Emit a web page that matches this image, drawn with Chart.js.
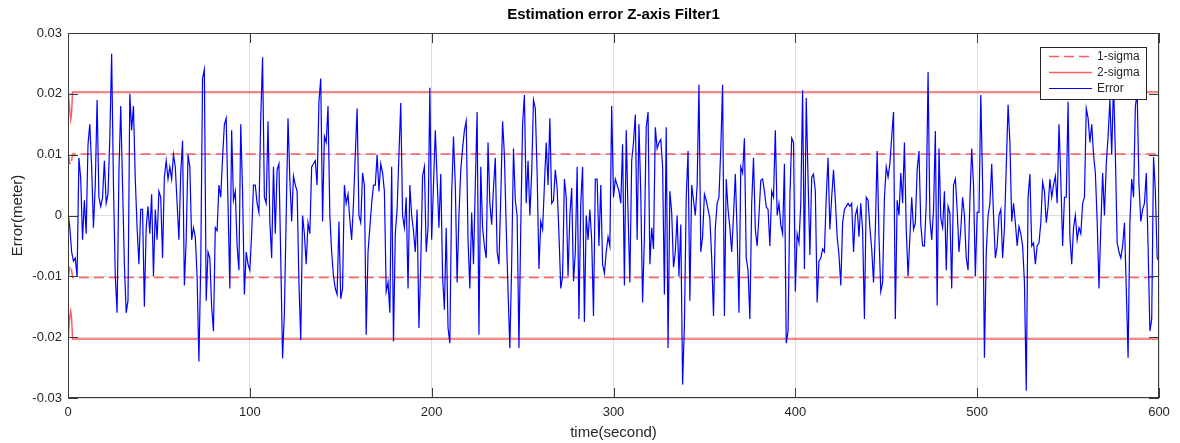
<!DOCTYPE html>
<html><head><meta charset="utf-8">
<script src="https://cdn.jsdelivr.net/npm/chart.js@4/dist/chart.umd.min.js"></script>
<style>html,body{margin:0;padding:0;background:#fff;overflow:hidden}#wrap{width:1180px;height:443px}</style>
</head><body><div id="wrap"><canvas id="c" width="1180" height="443"></canvas></div>
<script>
const chartTitle = 'Estimation error Z-axis Filter1';
const xAxisTitle = 'time(second)';
const yAxisTitle = 'Error(meter)';
const seriesNames = ['1-sigma', '2-sigma', 'Error'];
const xTickValues = [0, 100, 200, 300, 400, 500, 600];
const yTickValues = [-0.03, -0.02, -0.01, 0, 0.01, 0.02, 0.03];
const sampleStepSeconds = 1;
// estimation error, millimetres, one sample per second (t = 0 .. 600)
const errorMillimeters = [
0.5,-2,-6,-7.5,-7,-10,9.5,6,-4,2.5,
-3,11.7,15,8,-2,5,19,3,1.5,3,
9,2,3.5,12.8,26.6,5,-10,-16,7,18,
5,-8,-16,-14,20,14,18,6,-2,-8,
1,1,-15,-2,1.5,-3,3.5,-10,1,-4,
4,3,-7,6.3,9,6,8,6,10,8,
2,-4,7,12.3,-11.5,-4,10,8,-4,-2,
-3.5,-10,-24,-8,22.5,24,-14,-6,-7,-15,
-19,-2,-2.5,5,3,9.5,15,16,2,-12,
14,2.5,4,-5,-9,15,4,-13,-6,-8,
-9,-3,5,5,2,0.5,16,26,3,2,
15.5,-1,-7,8,-3,7.5,8.5,-7,-23.5,-16,
0,16,6,-1,6.5,5,4,-11,-20.5,0,
-3,-8,-1.2,-3,8,8.5,9,5,18.7,22.5,
-1,13,12,18,0,-6,-10,-12,-13,-1,
-13.7,-12,5,2,3.5,-0.7,-4,2,10,17.6,
0,-1.2,7,5,-19.6,-6,-2,2,5,5,
10,4,8.5,7,4,-12.5,-11,-16,8,-20.7,
-3,1,10,18.5,0,-2,3,-12,5,0,
-2.5,-6,1,-18.5,-8,6.5,8,-6,-2,21,
-4,5,14,6,-2,6.8,-10,-15.5,-2,-18.5,
-21,3.5,13,5,-11,0,7.5,11,14,15.5,
-4,-12,0.5,-8,5,17,-19.6,8,-2,-5,
-7,12,2,-1.5,4.5,9.5,-6,-8,3,15.5,
10,-2,-12.5,-21.8,-8,11,2.5,0,-21.8,-2,
15,19.8,2,9,0,7,19,17.6,7,-8.8,
-1,-2.3,5,12,5,16,2,2.5,7.5,4.5,
-3,-12,-10,6,3,-10,0,4.5,-10.8,-6,
8,-17,2,8,-17.5,0,-4,1,-4,-16.5,
6,6,-5,5,-8,-9.5,-6,-3.5,-5,18,
3,6,5,4,2,11.7,-11.5,14,0.5,-11,
9,12,16.6,-4,15,3.5,-14.3,-3.5,14.5,17,
-8,-2,-5.5,14.5,11,12,12.5,8,-13,14.5,
-21.8,4,0.5,-8.5,-6,0,-10,-1.5,-27.8,-18,
3,10.6,-14,5,2.5,0,5,21.5,-6,-3.5,
3.5,2.5,1,-0.5,-7,-16.5,-2,2,3,11,
21.5,-16.5,6,1,-2,-6,0,6.8,-3,-16,
8,7,12.7,-7,-9,-17,2,9.5,-2.3,-5,
0,5.8,6,4,1.4,1,-5,4,3,14,
0,2,-1.5,-3,8.5,-21,-19,3,12.7,12,
-12.5,-3,-4.5,2,20.6,-8.8,19.3,6,-6.5,6.3,
6.8,4,-14.3,-7.5,-7,-5.5,-6,3,9.5,-2.3,
3,7.5,2.5,-3.5,-6.5,-11.5,-1.2,1,1.5,2,
1.5,2,-6,0,1.2,-3.5,2,-2.5,-17,3,
2.5,-2,-5.5,-11,-2.3,10.6,-3.5,-12.5,-11,3,
8,6.3,8.5,13,17,-17,2.5,0,7,2,
12,-2.3,-10,-3.5,3,-2.3,-1.2,7.5,10.6,-1.5,
-5,-5,2,23.6,-0.5,-4,0.8,13.9,-14.8,11,
-0.5,-2,4,-9,1.5,0.4,-12,5,6,1,
-6,-2.3,3,0,-7,-9,2.5,11,5,-10,
0.5,0.5,19.8,5,-23.4,-6,0,2,8.5,0,
-7,-5,0,1,-7,-2,8,18.2,12,-1,
2,-1.2,-5,-1.8,-3,-5,-11,-28.8,3,6.8,
-5,-4.5,-8,-5,-4.5,-1.2,5.5,4,-1.2,1.5,
6,3,5,6.5,2,15,6,-5,3,3,
18.7,-3.5,-8,-2,0,-4,-2,-3,2,3,
17.6,16,12,15,10,7,-1,-12,-2,7,
0,8.5,13,19,10,22,10,-4.5,-6,-7,
-5,-1.2,-12,-23.4,-1,6,3,18,20,5,
-1,1,2,7,-5,-19,-17,9.6,4,-7,
-7.5
];
const sigmaTimes  = [0, 0.3, 1.0, 1.5, 2.0, 2.5, 600];
const sigma1Upper = [0.0100, 0.0098, 0.0086, 0.0083, 0.0090, 0.0101, 0.0101];
const sigma1Lower = [-0.0100, -0.0098, -0.0085, -0.0082, -0.0090, -0.0102, -0.0102];
const sigma2Upper = [0.0200, 0.0196, 0.0172, 0.0158, 0.0170, 0.0203, 0.0203];
const sigma2Lower = [-0.0200, -0.0194, -0.0165, -0.0157, -0.0170, -0.0203, -0.0203];

const FONT = 'Liberation Sans, Arial, Helvetica, sans-serif';
const TXT = '#262626';
const RED = 'rgba(255,30,30,0.72)';
const BLUE = '#0000ff';
const DASH = [10, 5];

const toPts = (ts, vs) => ts.map((t, i) => ({x: t, y: vs[i]}));
const errorPts = errorMillimeters.map((v, i) => ({x: i * sampleStepSeconds, y: v / 1000}));

const decor = {
  id: 'decor',
  afterDatasetsDraw(chart) {
    const ctx = chart.ctx, a = chart.chartArea;
    const xs = chart.scales.x, ys = chart.scales.y;
    ctx.save();
    ctx.strokeStyle = '#3a3a3a'; ctx.lineWidth = 1;
    ctx.strokeRect(Math.round(a.left) + 0.5, Math.round(a.top) + 0.5, Math.round(a.right - a.left) - 1, Math.round(a.bottom - a.top) - 1);
    const TL = 10;
    ctx.beginPath();
    xTickValues.forEach(v => {
      const px = Math.round(xs.getPixelForValue(v)) + 0.5;
      ctx.moveTo(px, a.bottom); ctx.lineTo(px, a.bottom - TL);
      ctx.moveTo(px, a.top); ctx.lineTo(px, a.top + TL);
    });
    yTickValues.forEach(v => {
      const py = Math.round(ys.getPixelForValue(v)) + 0.5;
      ctx.moveTo(a.left, py); ctx.lineTo(a.left + TL, py);
      ctx.moveTo(a.right, py); ctx.lineTo(a.right - TL, py);
    });
    ctx.stroke();
    const lx = 1040, ly = 47, lw = 106, lh = 52;
    ctx.fillStyle = '#fff';
    ctx.fillRect(lx, ly, lw, lh);
    ctx.strokeStyle = '#262626';
    ctx.strokeRect(lx + 0.5, ly + 0.5, lw, lh);
    const rows = [
      {name: seriesNames[0], color: RED, dash: DASH, w: 1.5},
      {name: seriesNames[1], color: RED, dash: [], w: 1.5},
      {name: seriesNames[2], color: BLUE, dash: [], w: 1}
    ];
    ctx.font = '12px ' + FONT;
    ctx.textBaseline = 'middle';
    rows.forEach((r, i) => {
      const y = ly + 9.5 + i * 16;
      ctx.beginPath();
      ctx.setLineDash(r.dash);
      ctx.strokeStyle = r.color; ctx.lineWidth = r.w;
      ctx.moveTo(lx + 9, y); ctx.lineTo(lx + 52, y);
      ctx.stroke();
      ctx.setLineDash([]);
      ctx.fillStyle = TXT;
      ctx.fillText(r.name, lx + 57, y + 0.5);
    });
    ctx.restore();
  },
  afterDraw(chart) {
    const ctx = chart.ctx, a = chart.chartArea;
    ctx.save();
    ctx.fillStyle = '#000';
    ctx.textAlign = 'center';
    ctx.textBaseline = 'middle';
    ctx.font = 'bold 15px ' + FONT;
    ctx.fillText(chartTitle, (a.left + a.right) / 2, 15);
    ctx.fillStyle = TXT;
    ctx.font = '15px ' + FONT;
    ctx.fillText(xAxisTitle, (a.left + a.right) / 2, 433);
    ctx.translate(18, (a.top + a.bottom) / 2);
    ctx.rotate(-Math.PI / 2);
    ctx.fillText(yAxisTitle, 0, 0);
    ctx.restore();
  }
};

new Chart(document.getElementById('c'), {
  type: 'line',
  data: {
    datasets: [
      {label: seriesNames[2], data: errorPts, borderColor: BLUE, borderWidth: 1.2, pointRadius: 0, tension: 0, order: 0},
      {label: seriesNames[0], data: toPts(sigmaTimes, sigma1Upper), borderColor: RED, borderWidth: 1.5, borderDash: DASH, pointRadius: 0, tension: 0, order: 1},
      {label: seriesNames[0], data: toPts(sigmaTimes, sigma1Lower), borderColor: RED, borderWidth: 1.5, borderDash: DASH, pointRadius: 0, tension: 0, order: 1},
      {label: seriesNames[1], data: toPts(sigmaTimes, sigma2Upper), borderColor: RED, borderWidth: 1.5, pointRadius: 0, tension: 0, order: 1},
      {label: seriesNames[1], data: toPts(sigmaTimes, sigma2Lower), borderColor: RED, borderWidth: 1.5, pointRadius: 0, tension: 0, order: 1}
    ]
  },
  options: {
    responsive: false,
    animation: false,
    devicePixelRatio: 1,
    layout: {padding: {top: 33, right: 21, left: 0, bottom: 0}},
    plugins: {legend: {display: false}, tooltip: {enabled: false}, title: {display: false}},
    scales: {
      x: {
        type: 'linear', min: 0, max: 600,
        afterBuildTicks: s => { s.ticks = xTickValues.map(v => ({value: v})); },
        afterFit: s => { s.height = 45; },
        ticks: {color: TXT, font: {family: FONT, size: 13}, padding: 7, autoSkip: false, maxRotation: 0, callback: v => String(v)},
        grid: {color: '#dedede', lineWidth: 1, drawTicks: false},
        border: {display: false}
      },
      y: {
        type: 'linear', min: -0.03, max: 0.03,
        afterBuildTicks: s => { s.ticks = yTickValues.map(v => ({value: v})); },
        afterFit: s => { s.width = 68; },
        ticks: {color: TXT, font: {family: FONT, size: 13}, padding: 6, autoSkip: false, callback: v => (v === 0 ? '0' : String(v))},
        grid: {color: '#dedede', lineWidth: 1, drawTicks: false},
        border: {display: false}
      }
    }
  },
  plugins: [decor]
});
</script>
</body></html>
